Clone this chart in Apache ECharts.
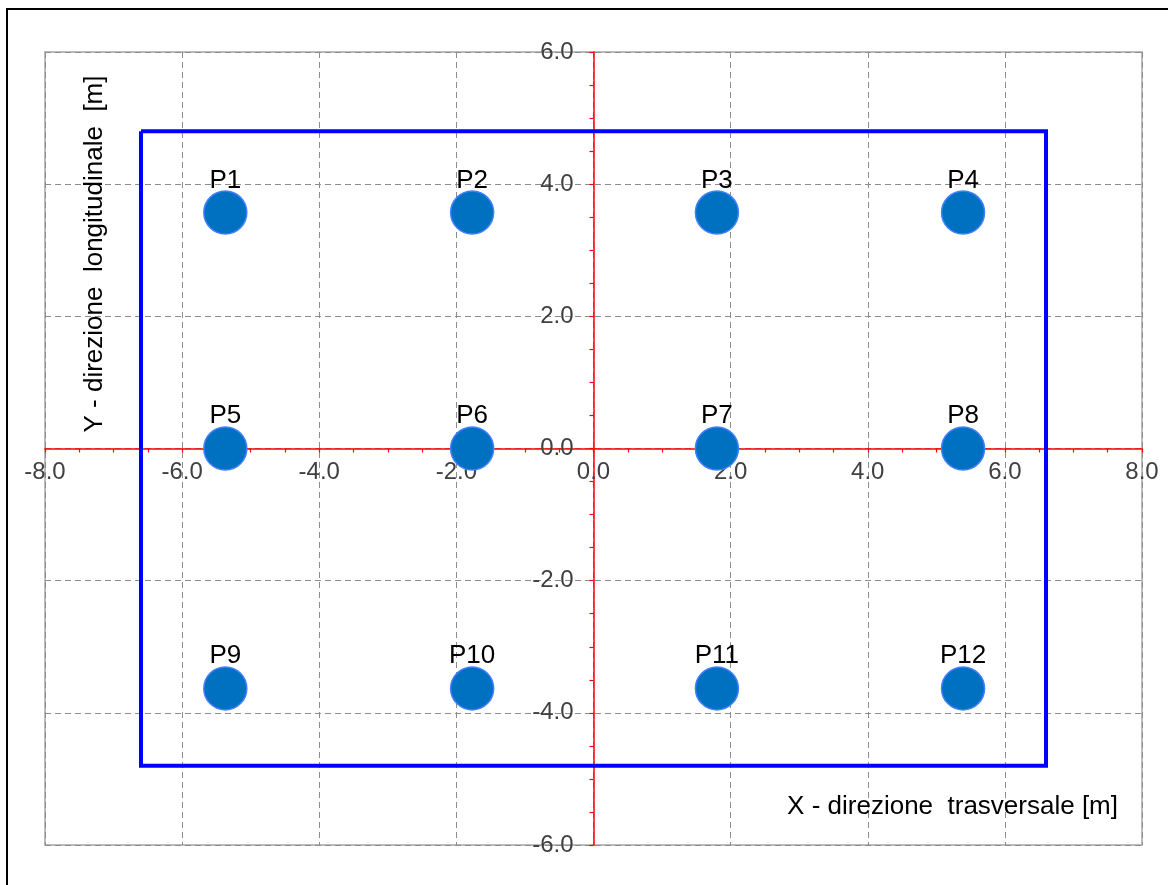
<!DOCTYPE html>
<html>
<head>
<meta charset="utf-8">
<script src="https://cdn.jsdelivr.net/npm/echarts@6/dist/echarts.min.js"></script>
<style>
html,body{margin:0;padding:0;background:#fff;}
#chart{width:1168px;height:885px;}
</style>
</head>
<body>
<div id="chart"></div>
<script>
// Data
const pileNames = ['P1','P2','P3','P4','P5','P6','P7','P8','P9','P10','P11','P12'];
const pileX = [-5.37,-1.77,1.8,5.39,-5.37,-1.77,1.8,5.39,-5.37,-1.77,1.8,5.39];
const pileY = [3.57,3.57,3.57,3.57,0,0,0,0,-3.63,-3.63,-3.63,-3.63];
const outlineX = [-6.6, 6.6, 6.6, -6.6, -6.6];
const outlineY = [4.8, 4.8, -4.8, -4.8, 4.8];
const xTitle = 'X - direzione  trasversale [m]';
const yTitle = 'Y - direzione  longitudinale  [m]';

const chart = echarts.init(document.getElementById('chart'));
const font = '"Liberation Sans", Arial, sans-serif';

const G = { left: 45, top: 52, width: 1097, height: 793 };
const X_MIN = -8, X_MAX = 8, Y_MIN = -6, Y_MAX = 6;

// axis used only for the dashed grid lines
const gridAxis = {
  type: 'value', interval: 2, z: 0,
  axisLine: { show: false }, axisTick: { show: false }, axisLabel: { show: false },
  splitLine: { show: true, lineStyle: { color: '#8c8c8c', type: [6, 4], width: 1 } }
};
// axis drawn in red through the origin
const redAxis = {
  type: 'value', interval: 2, z: 3,
  axisLine: { show: true, onZero: false, lineStyle: { color: '#FF0000', width: 1.5 } },
  axisTick: { show: true, inside: false, length: 4, lineStyle: { color: '#FF0000', width: 1.2 } },
  minorTick: { show: true, splitNumber: 4, length: 4, lineStyle: { color: '#FF0000', width: 1.2 } },
  splitLine: { show: false },
  axisLabel: {
    color: '#404040', fontSize: 24, fontFamily: font,
    showMinLabel: true, showMaxLabel: true,
    formatter: v => v.toFixed(1)
  }
};

const option = {
  animation: false,
  backgroundColor: '#fff',
  grid: {
    left: G.left, top: G.top, width: G.width, height: G.height,
    outerBoundsMode: 'none', containLabel: false,
    show: true, borderColor: '#A6A6A6', borderWidth: 1.5, backgroundColor: 'transparent'
  },
  xAxis: [
    Object.assign({}, gridAxis, { min: X_MIN, max: X_MAX, position: 'bottom' }),
    Object.assign({}, redAxis, {
      min: X_MIN, max: X_MAX, position: 'bottom',
      offset: -G.height * (0 - Y_MIN) / (Y_MAX - Y_MIN),
      axisLabel: Object.assign({}, redAxis.axisLabel, { margin: 12 })
    })
  ],
  yAxis: [
    Object.assign({}, gridAxis, { min: Y_MIN, max: Y_MAX, position: 'left' }),
    Object.assign({}, redAxis, {
      min: Y_MIN, max: Y_MAX, position: 'left',
      offset: -G.width * (0 - X_MIN) / (X_MAX - X_MIN),
      axisLabel: Object.assign({}, redAxis.axisLabel, { margin: 20 })
    })
  ],
  graphic: [
    { type: 'rect', shape: { x: 7, y: 9, width: 1200, height: 900 },
      style: { fill: 'none', stroke: '#000', lineWidth: 2 }, z: 100 },
    { type: 'text', x: 95, y: 254, rotation: Math.PI / 2,
      style: { text: yTitle, fill: '#000', font: '26px ' + font, align: 'center', verticalAlign: 'middle' }, z: 100 },
    { type: 'text', x: 1118, y: 807,
      style: { text: xTitle, fill: '#000', font: '26px ' + font, align: 'right', verticalAlign: 'middle' }, z: 100 }
  ],
  series: [
    {
      type: 'line',
      xAxisIndex: 0, yAxisIndex: 0,
      data: outlineX.map((x, i) => [x, outlineY[i]]),
      showSymbol: false,
      symbol: 'none',
      lineStyle: { color: '#0000FF', width: 4, join: 'miter' },
      z: 5,
      silent: true
    },
    {
      type: 'scatter',
      xAxisIndex: 0, yAxisIndex: 0,
      data: pileX.map((x, i) => ({ name: pileNames[i], value: [x, pileY[i]] })),
      symbolSize: 43,
      itemStyle: { color: '#0070C0', borderColor: '#4080FF', borderWidth: 1.5, opacity: 1 },
      label: {
        show: true, position: 'top', distance: -3,
        formatter: p => p.name,
        color: '#000', fontSize: 26, fontFamily: font
      },
      z: 10
    }
  ]
};
chart.setOption(option);
</script>
</body>
</html>
